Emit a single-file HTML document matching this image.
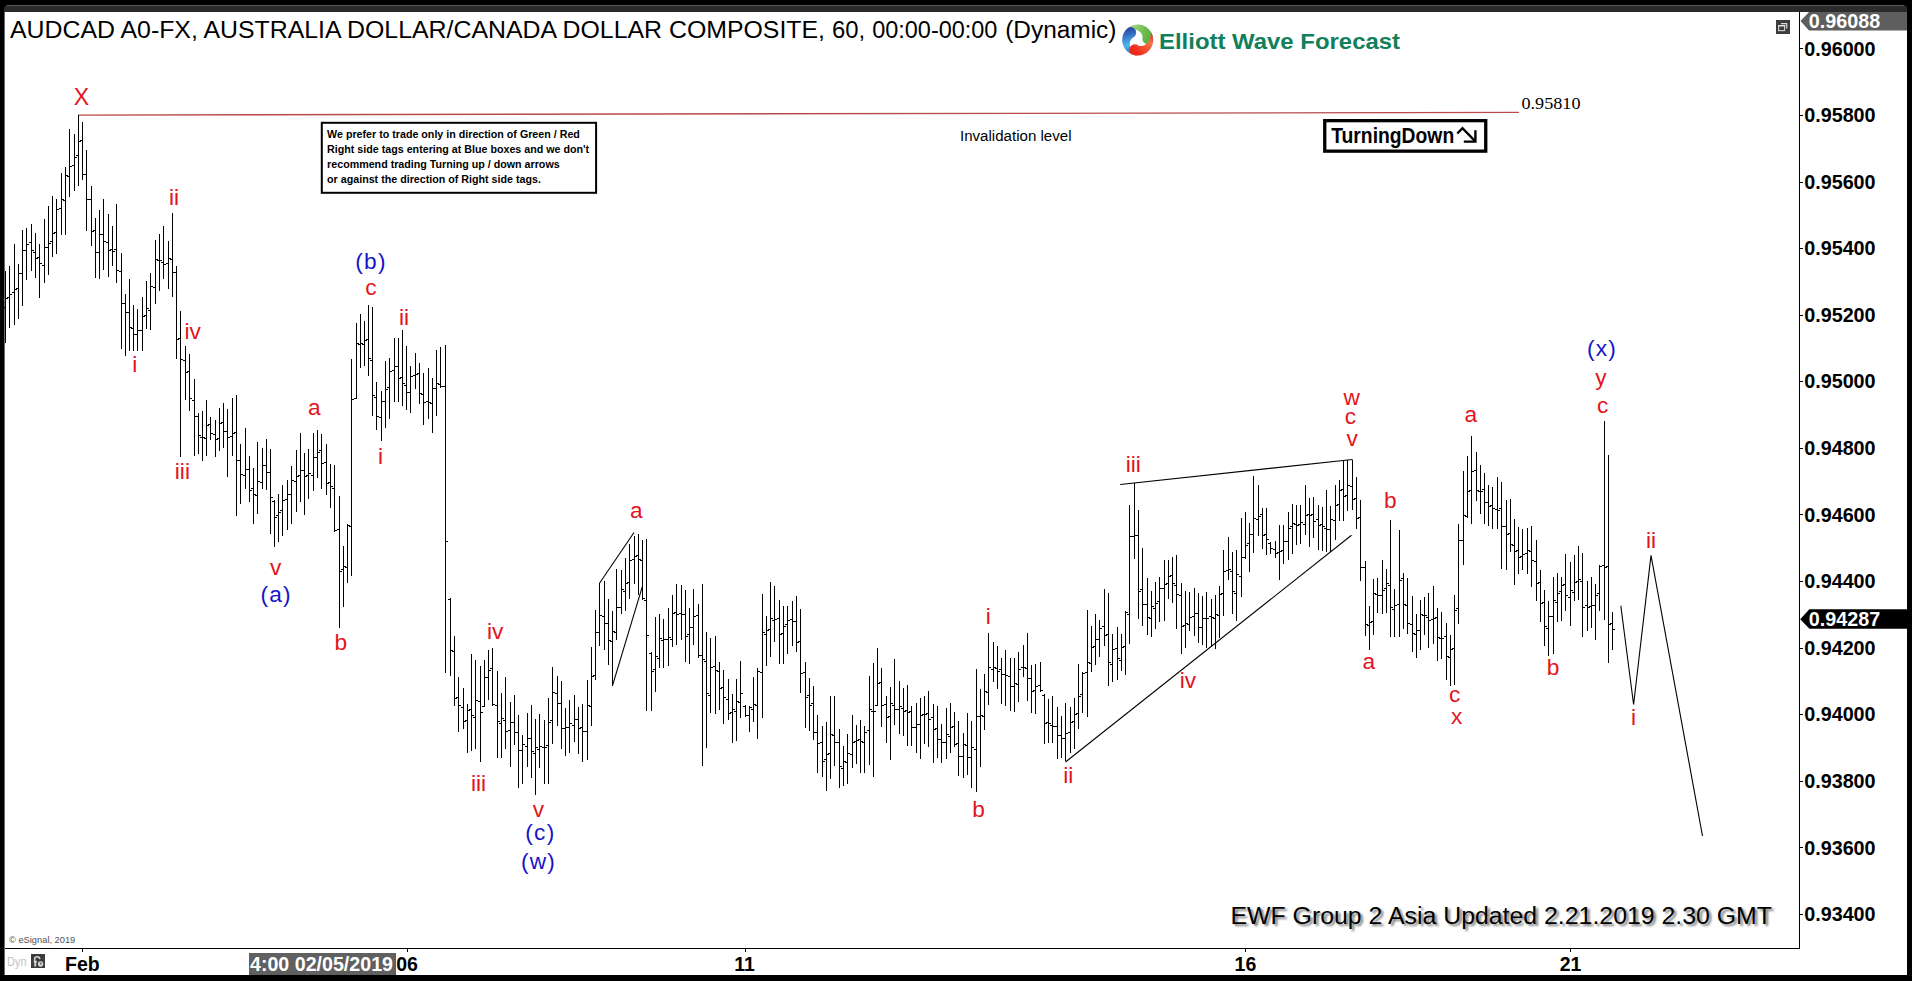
<!DOCTYPE html>
<html><head><meta charset="utf-8"><title>AUDCAD Elliott Wave Chart</title>
<style>
html,body{margin:0;padding:0;background:#000;}
body{width:1912px;height:981px;overflow:hidden;}
svg{display:block;}
.lab{font-family:"Liberation Sans",Arial,sans-serif;font-size:22.7px;text-anchor:middle;}
.ax{font-family:"Liberation Sans",Arial,sans-serif;font-size:19.5px;font-weight:bold;}
.yl{font-family:"Liberation Sans",Arial,sans-serif;font-size:19.3px;font-weight:bold;}
</style></head><body>
<svg width="1912" height="981" viewBox="0 0 1912 981">
<rect x="0" y="0" width="1912" height="981" fill="#000"/>
<path d="M4 12V9a4 4 0 0 1 4-4H1903a4 4 0 0 1 4 4V12Z" fill="#2b2b2b"/>
<path d="M7 5.5H1904" stroke="#5a5a5a" stroke-width="1"/>
<rect x="5" y="12" width="1902" height="963" fill="#fff"/>
<rect x="4" y="12" width="1" height="963" fill="#6a6a6a"/>
<g font-family='"Liberation Sans", Arial, sans-serif' font-size="23" fill="#000"><text x="10" y="37.5" textLength="815" lengthAdjust="spacingAndGlyphs">AUDCAD A0-FX, AUSTRALIA DOLLAR/CANADA DOLLAR COMPOSITE,</text><text x="831.9" y="37.5" textLength="33.2" lengthAdjust="spacingAndGlyphs">60,</text><text x="872.2" y="37.5" textLength="125.2" lengthAdjust="spacingAndGlyphs">00:00-00:00</text><text x="1005.2" y="37.5" textLength="111.2" lengthAdjust="spacingAndGlyphs">(Dynamic)</text></g>
<defs><linearGradient id="lg1" gradientUnits="userSpaceOnUse" x1="1124" y1="30" x2="1147" y2="40"><stop offset="0" stop-color="#b7dc86"/><stop offset="1" stop-color="#5bb443"/></linearGradient><linearGradient id="lg2" gradientUnits="userSpaceOnUse" x1="1128" y1="30" x2="1134" y2="56"><stop offset="0" stop-color="#2c4fae"/><stop offset="0.55" stop-color="#4bb6ef"/><stop offset="1" stop-color="#2468b4"/></linearGradient><linearGradient id="lg3" gradientUnits="userSpaceOnUse" x1="1134" y1="50" x2="1153" y2="30"><stop offset="0" stop-color="#f2281a"/><stop offset="0.6" stop-color="#f4744a"/><stop offset="1" stop-color="#c9261c"/></linearGradient></defs><path d="M1153.20 40.00L1153.01 37.61L1152.46 35.27L1151.56 33.05L1150.32 31.00L1148.78 29.16L1146.97 27.58L1144.95 26.30L1142.75 25.34L1140.42 24.74L1138.04 24.50L1135.64 24.64L1133.30 25.14L1131.06 26.00L1128.98 27.19L1127.10 28.69L1125.49 30.46L1125.72 30.64L1127.94 30.24L1129.73 29.81L1131.42 29.55L1133.01 29.47L1134.51 29.57L1135.91 29.84L1137.19 30.25L1138.34 30.79L1139.36 31.44L1140.24 32.18L1140.97 32.99L1141.55 33.84L1141.99 34.71L1142.28 35.58L1142.43 36.43L1142.46 37.25L1142.30 38.98L1142.68 40.67L1143.56 42.16L1144.86 43.31L1146.46 43.99L1148.18 44.16L1149.87 43.78L1151.37 42.89L1152.51 41.59Z" fill="url(#lg1)"/><path d="M1128.59 27.46L1126.76 29.02L1125.20 30.83L1123.94 32.87L1123.00 35.08L1122.42 37.41L1122.20 39.80L1122.36 42.19L1122.88 44.53L1123.75 46.76L1124.96 48.83L1126.48 50.69L1128.26 52.30L1130.27 53.61L1132.46 54.59L1134.78 55.22L1137.16 55.49L1137.17 55.19L1135.54 53.64L1134.13 52.44L1132.94 51.23L1131.94 49.98L1131.14 48.71L1130.53 47.42L1130.11 46.14L1129.87 44.89L1129.80 43.68L1129.88 42.54L1130.10 41.48L1130.45 40.51L1130.90 39.64L1131.43 38.89L1132.03 38.27L1132.68 37.76L1134.17 36.88L1135.31 35.58L1136.00 33.99L1136.16 32.26L1135.78 30.57L1134.90 29.08L1133.60 27.93L1132.01 27.24L1130.28 27.08Z" fill="url(#lg2)"/><path d="M1131.40 54.16L1133.66 54.96L1136.01 55.41L1138.41 55.48L1140.79 55.19L1143.10 54.53L1145.27 53.52L1147.27 52.19L1149.04 50.57L1150.53 48.70L1151.72 46.61L1152.57 44.37L1153.07 42.02L1153.20 39.63L1152.95 37.24L1152.34 34.92L1151.39 32.72L1151.12 32.86L1150.59 35.05L1150.25 36.87L1149.80 38.51L1149.22 40.00L1148.52 41.33L1147.71 42.50L1146.81 43.50L1145.85 44.33L1144.84 45.00L1143.81 45.50L1142.78 45.84L1141.76 46.03L1140.79 46.07L1139.88 45.98L1139.03 45.78L1138.27 45.47L1136.76 44.62L1135.06 44.28L1133.34 44.48L1131.77 45.20L1130.49 46.38L1129.64 47.89L1129.30 49.59L1129.50 51.31L1130.22 52.88Z" fill="url(#lg3)"/>
<text x="1159" y="48.8" font-family='"Liberation Sans", Arial, sans-serif' font-size="22" font-weight="bold" fill="#12805a" textLength="241" lengthAdjust="spacingAndGlyphs">Elliott Wave Forecast</text>
<rect x="1776" y="20" width="14" height="14" fill="#3d3d3d"/><path d="M1781 23.6h5.7v5" fill="none" stroke="#d8d8d8" stroke-width="1.2"/><rect x="1778.6" y="25.6" width="6" height="5" fill="none" stroke="#c8c8c8" stroke-width="1.2"/><rect x="1778" y="25" width="7.2" height="1.4" fill="#e0e0e0"/>
<g shape-rendering="crispEdges" fill="#000"><rect x="1799" y="12" width="1" height="937"/><rect x="5" y="948" width="1795" height="1"/><rect x="1800" y="48" width="3" height="1"/><rect x="1800" y="115" width="3" height="1"/><rect x="1800" y="182" width="3" height="1"/><rect x="1800" y="248" width="3" height="1"/><rect x="1800" y="315" width="3" height="1"/><rect x="1800" y="381" width="3" height="1"/><rect x="1800" y="448" width="3" height="1"/><rect x="1800" y="514" width="3" height="1"/><rect x="1800" y="581" width="3" height="1"/><rect x="1800" y="648" width="3" height="1"/><rect x="1800" y="714" width="3" height="1"/><rect x="1800" y="781" width="3" height="1"/><rect x="1800" y="847" width="3" height="1"/><rect x="1800" y="914" width="3" height="1"/><rect x="82" y="949" width="1" height="3"/><rect x="407" y="949" width="1" height="3"/><rect x="745" y="949" width="1" height="3"/><rect x="1245" y="949" width="1" height="3"/><rect x="1570" y="949" width="1" height="3"/></g>
<text class="yl" x="1804.2" y="55.5" fill="#000" textLength="71.4" lengthAdjust="spacingAndGlyphs">0.96000</text><text class="yl" x="1804.2" y="122.1" fill="#000" textLength="71.4" lengthAdjust="spacingAndGlyphs">0.95800</text><text class="yl" x="1804.2" y="188.7" fill="#000" textLength="71.4" lengthAdjust="spacingAndGlyphs">0.95600</text><text class="yl" x="1804.2" y="255.2" fill="#000" textLength="71.4" lengthAdjust="spacingAndGlyphs">0.95400</text><text class="yl" x="1804.2" y="321.8" fill="#000" textLength="71.4" lengthAdjust="spacingAndGlyphs">0.95200</text><text class="yl" x="1804.2" y="388.4" fill="#000" textLength="71.4" lengthAdjust="spacingAndGlyphs">0.95000</text><text class="yl" x="1804.2" y="455.0" fill="#000" textLength="71.4" lengthAdjust="spacingAndGlyphs">0.94800</text><text class="yl" x="1804.2" y="521.6" fill="#000" textLength="71.4" lengthAdjust="spacingAndGlyphs">0.94600</text><text class="yl" x="1804.2" y="588.1" fill="#000" textLength="71.4" lengthAdjust="spacingAndGlyphs">0.94400</text><text class="yl" x="1804.2" y="654.7" fill="#000" textLength="71.4" lengthAdjust="spacingAndGlyphs">0.94200</text><text class="yl" x="1804.2" y="721.3" fill="#000" textLength="71.4" lengthAdjust="spacingAndGlyphs">0.94000</text><text class="yl" x="1804.2" y="787.9" fill="#000" textLength="71.4" lengthAdjust="spacingAndGlyphs">0.93800</text><text class="yl" x="1804.2" y="854.5" fill="#000" textLength="71.4" lengthAdjust="spacingAndGlyphs">0.93600</text><text class="yl" x="1804.2" y="921.0" fill="#000" textLength="71.4" lengthAdjust="spacingAndGlyphs">0.93400</text>
<path d="M1800.5 21L1809 12H1907V30.5H1809Z" fill="#5e5e5e"/><text class="yl" x="1808.8" y="27.6" fill="#fff" textLength="71.4" lengthAdjust="spacingAndGlyphs">0.96088</text>
<path d="M1800.2 619.3L1809.4 609.3H1907V628.8H1809.4Z" fill="#000"/><text class="yl" x="1808.8" y="626" fill="#fff" textLength="71.4" lengthAdjust="spacingAndGlyphs">0.94287</text>
<rect x="249" y="953" width="147" height="22" fill="#606060"/><text class="ax" x="250" y="970.9" fill="#fff" textLength="143" lengthAdjust="spacingAndGlyphs">4:00 02/05/2019</text><text class="ax" x="82.4" y="970.9" text-anchor="middle" fill="#000">Feb</text><text class="ax" x="407" y="970.9" text-anchor="middle" fill="#000">06</text><text class="ax" x="744.5" y="970.9" text-anchor="middle" fill="#000">11</text><text class="ax" x="1245.4" y="970.9" text-anchor="middle" fill="#000">16</text><text class="ax" x="1570.6" y="970.9" text-anchor="middle" fill="#000">21</text>
<text x="7" y="965.6" font-family='"Liberation Sans", Arial, sans-serif' font-size="12.5" fill="#c2c2c2" textLength="19.5" lengthAdjust="spacingAndGlyphs">Dyn</text><rect x="31" y="954" width="14" height="14" fill="#3c3c3c"/><path d="M34.6 961.5v-1.8a2.6 2.6 0 0 1 5.2-0.6" fill="none" stroke="#d4d4d4" stroke-width="1.5"/><path d="M33.8 961.6h3.2M35.2 961v5.6" fill="none" stroke="#d4d4d4" stroke-width="1.9"/><circle cx="40.6" cy="964" r="2.7" fill="#d4d4d4"/><path d="M40.6 962.4v1.7h1.3" stroke="#3c3c3c" stroke-width="0.8" fill="none"/>
<text x="9" y="943" font-family='"Liberation Sans", Arial, sans-serif' font-size="9.3" fill="#505050">© eSignal, 2019</text>
<path d="M78 115.1L1519 112.4" stroke="#b84a4a" stroke-width="1.4" fill="none"/>
<text x="1521.5" y="108.8" font-family='"Liberation Serif","Times New Roman",serif' font-size="17" fill="#000" textLength="59" lengthAdjust="spacingAndGlyphs">0.95810</text>
<text x="960" y="140.8" font-family='"Liberation Sans", Arial, sans-serif' font-size="15.5" fill="#000" textLength="111.5" lengthAdjust="spacingAndGlyphs">Invalidation level</text>
<rect x="1324.75" y="120.65" width="161" height="30.5" fill="#fff" stroke="#000" stroke-width="3.3"/>
<text x="1331.2" y="142.7" font-family='"Liberation Sans", Arial, sans-serif' font-size="21.3" font-weight="bold" fill="#000" textLength="123" lengthAdjust="spacingAndGlyphs">TurningDown</text><path d="M1457.3 133.5L1462.5 128.2L1474.6 140.6" fill="none" stroke="#000" stroke-width="2.4"/><path d="M1475.4 130.2V141.6H1463.8" fill="none" stroke="#000" stroke-width="2.4" stroke-linejoin="miter"/>
<rect x="321.8" y="122.8" width="274.3" height="70" fill="#fff" stroke="#000" stroke-width="2"/>
<text x="327.1" y="138.0" font-family='"Liberation Sans", Arial, sans-serif' font-size="10.7" font-weight="bold" fill="#000">We prefer to trade only in direction of Green / Red</text><text x="327.1" y="153.1" font-family='"Liberation Sans", Arial, sans-serif' font-size="10.7" font-weight="bold" fill="#000">Right side tags entering at Blue boxes and we don&#39;t</text><text x="327.1" y="167.9" font-family='"Liberation Sans", Arial, sans-serif' font-size="10.7" font-weight="bold" fill="#000">recommend trading Turning up / down arrows</text><text x="327.1" y="182.7" font-family='"Liberation Sans", Arial, sans-serif' font-size="10.7" font-weight="bold" fill="#000">or against the direction of Right side tags.</text>
<path shape-rendering="crispEdges" fill="#000" d="M5 271h1V343h-1ZM3 307h2v1h-2ZM6 298h2v1h-2ZM9 266h1V328h-1ZM7 297h2v1h-2ZM10 294h2v1h-2ZM14 244h1V325h-1ZM12 292h2v1h-2ZM15 289h2v1h-2ZM18 264h1V319h-1ZM16 288h2v1h-2ZM19 273h2v1h-2ZM22 230h1V306h-1ZM20 273h2v1h-2ZM23 250h2v1h-2ZM26 228h1V280h-1ZM24 250h2v1h-2ZM27 244h2v1h-2ZM31 224h1V271h-1ZM29 242h2v1h-2ZM32 250h2v1h-2ZM35 233h1V278h-1ZM33 252h2v1h-2ZM36 258h2v1h-2ZM39 244h1V298h-1ZM37 257h2v1h-2ZM40 263h2v1h-2ZM44 219h1V283h-1ZM42 265h2v1h-2ZM45 247h2v1h-2ZM48 206h1V275h-1ZM46 247h2v1h-2ZM49 243h2v1h-2ZM52 196h1V257h-1ZM50 241h2v1h-2ZM53 233h2v1h-2ZM56 199h1V254h-1ZM54 232h2v1h-2ZM57 209h2v1h-2ZM61 173h1V235h-1ZM59 208h2v1h-2ZM62 199h2v1h-2ZM65 167h1V235h-1ZM63 200h2v1h-2ZM66 175h2v1h-2ZM69 129h1V197h-1ZM67 176h2v1h-2ZM70 166h2v1h-2ZM74 134h1V191h-1ZM72 165h2v1h-2ZM75 157h2v1h-2ZM78 115h1V186h-1ZM76 155h2v1h-2ZM79 141h2v1h-2ZM82 122h1V180h-1ZM80 140h2v1h-2ZM83 174h2v1h-2ZM86 150h1V231h-1ZM84 174h2v1h-2ZM87 199h2v1h-2ZM91 186h1V246h-1ZM89 199h2v1h-2ZM92 231h2v1h-2ZM95 218h1V278h-1ZM93 230h2v1h-2ZM96 252h2v1h-2ZM99 210h1V279h-1ZM97 252h2v1h-2ZM100 234h2v1h-2ZM103 199h1V270h-1ZM101 234h2v1h-2ZM104 241h2v1h-2ZM108 214h1V277h-1ZM106 242h2v1h-2ZM109 250h2v1h-2ZM112 226h1V266h-1ZM110 249h2v1h-2ZM113 251h2v1h-2ZM116 204h1V283h-1ZM114 249h2v1h-2ZM117 270h2v1h-2ZM121 253h1V349h-1ZM119 271h2v1h-2ZM122 303h2v1h-2ZM125 294h1V356h-1ZM123 303h2v1h-2ZM126 312h2v1h-2ZM129 279h1V351h-1ZM127 312h2v1h-2ZM130 327h2v1h-2ZM133 305h1V351h-1ZM131 328h2v1h-2ZM134 334h2v1h-2ZM137 309h1V351h-1ZM135 334h2v1h-2ZM138 330h2v1h-2ZM142 297h1V351h-1ZM140 330h2v1h-2ZM143 316h2v1h-2ZM146 281h1V329h-1ZM144 315h2v1h-2ZM147 308h2v1h-2ZM150 273h1V330h-1ZM148 310h2v1h-2ZM151 286h2v1h-2ZM155 240h1V304h-1ZM153 287h2v1h-2ZM156 259h2v1h-2ZM159 234h1V291h-1ZM157 260h2v1h-2ZM160 260h2v1h-2ZM163 226h1V279h-1ZM161 262h2v1h-2ZM164 264h2v1h-2ZM168 241h1V289h-1ZM166 263h2v1h-2ZM169 258h2v1h-2ZM172 213h1V297h-1ZM170 259h2v1h-2ZM173 272h2v1h-2ZM176 266h1V359h-1ZM174 272h2v1h-2ZM177 339h2v1h-2ZM180 311h1V457h-1ZM178 338h2v1h-2ZM181 359h2v1h-2ZM185 346h1V400h-1ZM183 360h2v1h-2ZM186 372h2v1h-2ZM189 354h1V411h-1ZM187 371h2v1h-2ZM190 398h2v1h-2ZM194 379h1V456h-1ZM192 400h2v1h-2ZM195 416h2v1h-2ZM198 413h1V454h-1ZM196 416h2v1h-2ZM199 435h2v1h-2ZM202 411h1V461h-1ZM200 437h2v1h-2ZM203 437h2v1h-2ZM206 400h1V456h-1ZM204 438h2v1h-2ZM207 425h2v1h-2ZM210 417h1V440h-1ZM208 424h2v1h-2ZM211 433h2v1h-2ZM215 420h1V457h-1ZM213 434h2v1h-2ZM216 439h2v1h-2ZM219 408h1V451h-1ZM217 438h2v1h-2ZM220 423h2v1h-2ZM223 403h1V448h-1ZM221 422h2v1h-2ZM224 431h2v1h-2ZM227 409h1V477h-1ZM225 431h2v1h-2ZM228 437h2v1h-2ZM232 398h1V456h-1ZM230 436h2v1h-2ZM233 433h2v1h-2ZM236 395h1V516h-1ZM234 432h2v1h-2ZM237 460h2v1h-2ZM240 444h1V504h-1ZM238 460h2v1h-2ZM241 474h2v1h-2ZM245 428h1V489h-1ZM243 475h2v1h-2ZM246 469h2v1h-2ZM249 456h1V502h-1ZM247 469h2v1h-2ZM250 490h2v1h-2ZM253 468h1V524h-1ZM251 488h2v1h-2ZM254 494h2v1h-2ZM257 442h1V514h-1ZM255 495h2v1h-2ZM258 481h2v1h-2ZM262 448h1V489h-1ZM260 482h2v1h-2ZM263 465h2v1h-2ZM266 439h1V490h-1ZM264 465h2v1h-2ZM267 472h2v1h-2ZM270 449h1V534h-1ZM268 472h2v1h-2ZM271 497h2v1h-2ZM274 500h1V547h-1ZM272 501h2v1h-2ZM275 517h2v1h-2ZM278 494h1V542h-1ZM276 515h2v1h-2ZM279 512h2v1h-2ZM282 485h1V536h-1ZM280 510h2v1h-2ZM283 500h2v1h-2ZM287 480h1V530h-1ZM285 499h2v1h-2ZM288 494h2v1h-2ZM291 466h1V524h-1ZM289 494h2v1h-2ZM292 480h2v1h-2ZM296 450h1V512h-1ZM294 481h2v1h-2ZM297 476h2v1h-2ZM300 433h1V502h-1ZM298 475h2v1h-2ZM301 470h2v1h-2ZM304 453h1V515h-1ZM302 470h2v1h-2ZM305 476h2v1h-2ZM308 449h1V499h-1ZM306 475h2v1h-2ZM309 473h2v1h-2ZM313 433h1V491h-1ZM311 475h2v1h-2ZM314 457h2v1h-2ZM317 430h1V478h-1ZM315 457h2v1h-2ZM318 452h2v1h-2ZM321 434h1V489h-1ZM319 450h2v1h-2ZM322 463h2v1h-2ZM326 444h1V495h-1ZM324 462h2v1h-2ZM327 483h2v1h-2ZM330 464h1V508h-1ZM328 482h2v1h-2ZM331 486h2v1h-2ZM334 465h1V532h-1ZM332 488h2v1h-2ZM335 530h2v1h-2ZM339 496h1V628h-1ZM337 529h2v1h-2ZM340 571h2v1h-2ZM343 546h1V607h-1ZM341 569h2v1h-2ZM344 566h2v1h-2ZM347 524h1V583h-1ZM345 567h2v1h-2ZM348 525h2v1h-2ZM351 359h1V576h-1ZM349 526h2v1h-2ZM352 399h2v1h-2ZM356 323h1V399h-1ZM354 398h2v1h-2ZM357 343h2v1h-2ZM360 314h1V368h-1ZM358 344h2v1h-2ZM361 343h2v1h-2ZM364 321h1V366h-1ZM362 344h2v1h-2ZM365 340h2v1h-2ZM368 305h1V376h-1ZM366 339h2v1h-2ZM369 358h2v1h-2ZM372 307h1V416h-1ZM370 360h2v1h-2ZM373 395h2v1h-2ZM376 382h1V430h-1ZM374 397h2v1h-2ZM377 416h2v1h-2ZM381 391h1V441h-1ZM379 417h2v1h-2ZM382 401h2v1h-2ZM385 361h1V428h-1ZM383 401h2v1h-2ZM386 389h2v1h-2ZM389 358h1V419h-1ZM387 387h2v1h-2ZM390 371h2v1h-2ZM394 338h1V402h-1ZM392 370h2v1h-2ZM395 366h2v1h-2ZM398 338h1V402h-1ZM396 366h2v1h-2ZM399 378h2v1h-2ZM402 330h1V406h-1ZM400 377h2v1h-2ZM403 383h2v1h-2ZM406 346h1V410h-1ZM404 385h2v1h-2ZM407 392h2v1h-2ZM410 366h1V413h-1ZM408 392h2v1h-2ZM411 376h2v1h-2ZM415 353h1V389h-1ZM413 375h2v1h-2ZM416 374h2v1h-2ZM419 363h1V404h-1ZM417 373h2v1h-2ZM420 393h2v1h-2ZM423 373h1V425h-1ZM421 394h2v1h-2ZM424 402h2v1h-2ZM428 368h1V419h-1ZM426 401h2v1h-2ZM429 402h2v1h-2ZM432 378h1V433h-1ZM430 403h2v1h-2ZM433 388h2v1h-2ZM436 350h1V416h-1ZM434 388h2v1h-2ZM437 383h2v1h-2ZM440 347h1V388h-1ZM438 384h2v1h-2ZM441 386h2v1h-2ZM445 345h1V673h-1ZM443 386h2v1h-2ZM446 541h2v1h-2ZM450 598h1V676h-1ZM448 599h2v1h-2ZM451 650h2v1h-2ZM454 636h1V706h-1ZM452 651h2v1h-2ZM455 698h2v1h-2ZM458 677h1V732h-1ZM456 697h2v1h-2ZM459 705h2v1h-2ZM463 688h1V729h-1ZM461 707h2v1h-2ZM464 721h2v1h-2ZM467 704h1V753h-1ZM465 720h2v1h-2ZM468 710h2v1h-2ZM471 654h1V751h-1ZM469 709h2v1h-2ZM472 715h2v1h-2ZM475 660h1V749h-1ZM473 717h2v1h-2ZM476 700h2v1h-2ZM480 666h1V762h-1ZM478 701h2v1h-2ZM481 712h2v1h-2ZM484 660h1V707h-1ZM482 706h2v1h-2ZM485 677h2v1h-2ZM488 650h1V700h-1ZM486 677h2v1h-2ZM489 670h2v1h-2ZM492 648h1V706h-1ZM490 668h2v1h-2ZM493 704h2v1h-2ZM497 671h1V758h-1ZM495 705h2v1h-2ZM498 721h2v1h-2ZM501 693h1V758h-1ZM499 723h2v1h-2ZM502 718h2v1h-2ZM505 677h1V749h-1ZM503 720h2v1h-2ZM506 731h2v1h-2ZM510 702h1V767h-1ZM508 730h2v1h-2ZM511 722h2v1h-2ZM514 695h1V745h-1ZM512 722h2v1h-2ZM515 732h2v1h-2ZM518 715h1V788h-1ZM516 732h2v1h-2ZM519 750h2v1h-2ZM522 735h1V784h-1ZM520 750h2v1h-2ZM523 744h2v1h-2ZM527 713h1V767h-1ZM525 746h2v1h-2ZM528 738h2v1h-2ZM531 705h1V778h-1ZM529 738h2v1h-2ZM532 751h2v1h-2ZM535 719h1V795h-1ZM533 753h2v1h-2ZM536 747h2v1h-2ZM539 714h1V768h-1ZM537 749h2v1h-2ZM540 746h2v1h-2ZM544 720h1V784h-1ZM542 747h2v1h-2ZM545 747h2v1h-2ZM548 698h1V784h-1ZM546 745h2v1h-2ZM549 722h2v1h-2ZM552 667h1V744h-1ZM550 720h2v1h-2ZM553 692h2v1h-2ZM557 676h1V726h-1ZM555 693h2v1h-2ZM558 703h2v1h-2ZM561 681h1V749h-1ZM559 703h2v1h-2ZM562 728h2v1h-2ZM565 708h1V756h-1ZM563 728h2v1h-2ZM566 727h2v1h-2ZM569 700h1V753h-1ZM567 727h2v1h-2ZM570 723h2v1h-2ZM574 695h1V742h-1ZM572 725h2v1h-2ZM575 719h2v1h-2ZM578 707h1V754h-1ZM576 719h2v1h-2ZM579 728h2v1h-2ZM582 704h1V762h-1ZM580 727h2v1h-2ZM583 731h2v1h-2ZM587 680h1V760h-1ZM585 731h2v1h-2ZM588 705h2v1h-2ZM591 647h1V726h-1ZM589 706h2v1h-2ZM592 676h2v1h-2ZM595 610h1V680h-1ZM593 675h2v1h-2ZM596 632h2v1h-2ZM599 583h1V646h-1ZM597 632h2v1h-2ZM600 615h2v1h-2ZM604 581h1V650h-1ZM602 616h2v1h-2ZM605 623h2v1h-2ZM608 599h1V665h-1ZM606 623h2v1h-2ZM609 640h2v1h-2ZM612 611h1V686h-1ZM610 641h2v1h-2ZM613 631h2v1h-2ZM616 569h1V640h-1ZM614 632h2v1h-2ZM617 607h2v1h-2ZM621 570h1V614h-1ZM619 607h2v1h-2ZM622 589h2v1h-2ZM625 558h1V611h-1ZM623 591h2v1h-2ZM626 583h2v1h-2ZM629 544h1V599h-1ZM627 582h2v1h-2ZM630 560h2v1h-2ZM634 536h1V584h-1ZM632 559h2v1h-2ZM635 556h2v1h-2ZM638 534h1V595h-1ZM636 555h2v1h-2ZM639 559h2v1h-2ZM642 540h1V600h-1ZM640 560h2v1h-2ZM643 598h2v1h-2ZM646 539h1V711h-1ZM644 600h2v1h-2ZM647 635h2v1h-2ZM651 652h1V711h-1ZM649 653h2v1h-2ZM652 671h2v1h-2ZM655 617h1V692h-1ZM653 669h2v1h-2ZM656 656h2v1h-2ZM659 614h1V668h-1ZM657 658h2v1h-2ZM660 638h2v1h-2ZM663 619h1V668h-1ZM661 640h2v1h-2ZM664 639h2v1h-2ZM668 608h1V666h-1ZM666 639h2v1h-2ZM669 637h2v1h-2ZM672 595h1V647h-1ZM670 639h2v1h-2ZM673 613h2v1h-2ZM676 584h1V645h-1ZM674 612h2v1h-2ZM677 614h2v1h-2ZM681 585h1V640h-1ZM679 613h2v1h-2ZM682 614h2v1h-2ZM685 590h1V662h-1ZM683 614h2v1h-2ZM686 636h2v1h-2ZM689 608h1V664h-1ZM687 634h2v1h-2ZM690 627h2v1h-2ZM693 589h1V645h-1ZM691 627h2v1h-2ZM694 616h2v1h-2ZM698 604h1V658h-1ZM696 615h2v1h-2ZM699 655h2v1h-2ZM702 584h1V766h-1ZM700 655h2v1h-2ZM703 659h2v1h-2ZM706 632h1V748h-1ZM704 661h2v1h-2ZM707 693h2v1h-2ZM710 638h1V713h-1ZM708 695h2v1h-2ZM711 667h2v1h-2ZM715 636h1V714h-1ZM713 666h2v1h-2ZM716 670h2v1h-2ZM719 662h1V710h-1ZM717 671h2v1h-2ZM720 688h2v1h-2ZM723 670h1V724h-1ZM721 687h2v1h-2ZM724 697h2v1h-2ZM728 679h1V720h-1ZM726 699h2v1h-2ZM729 713h2v1h-2ZM732 694h1V743h-1ZM730 712h2v1h-2ZM733 709h2v1h-2ZM736 679h1V741h-1ZM734 711h2v1h-2ZM737 701h2v1h-2ZM740 661h1V718h-1ZM738 702h2v1h-2ZM741 693h2v1h-2ZM745 705h1V717h-1ZM743 706h2v1h-2ZM746 715h2v1h-2ZM749 706h1V732h-1ZM747 715h2v1h-2ZM750 707h2v1h-2ZM753 677h1V722h-1ZM751 709h2v1h-2ZM754 704h2v1h-2ZM757 668h1V739h-1ZM755 705h2v1h-2ZM758 671h2v1h-2ZM762 594h1V718h-1ZM760 672h2v1h-2ZM763 632h2v1h-2ZM766 616h1V666h-1ZM764 634h2v1h-2ZM767 630h2v1h-2ZM770 582h1V657h-1ZM768 629h2v1h-2ZM771 618h2v1h-2ZM774 586h1V642h-1ZM772 620h2v1h-2ZM775 619h2v1h-2ZM779 600h1V664h-1ZM777 618h2v1h-2ZM780 634h2v1h-2ZM783 606h1V664h-1ZM781 633h2v1h-2ZM784 626h2v1h-2ZM787 606h1V654h-1ZM785 624h2v1h-2ZM788 620h2v1h-2ZM792 601h1V646h-1ZM790 619h2v1h-2ZM793 621h2v1h-2ZM796 596h1V652h-1ZM794 621h2v1h-2ZM797 642h2v1h-2ZM800 609h1V693h-1ZM798 641h2v1h-2ZM801 673h2v1h-2ZM805 662h1V728h-1ZM803 672h2v1h-2ZM806 697h2v1h-2ZM809 678h1V731h-1ZM807 695h2v1h-2ZM810 705h2v1h-2ZM813 686h1V740h-1ZM811 703h2v1h-2ZM814 732h2v1h-2ZM817 715h1V773h-1ZM815 732h2v1h-2ZM818 743h2v1h-2ZM822 726h1V777h-1ZM820 742h2v1h-2ZM823 761h2v1h-2ZM826 722h1V791h-1ZM824 759h2v1h-2ZM827 754h2v1h-2ZM830 696h1V779h-1ZM828 753h2v1h-2ZM831 734h2v1h-2ZM834 696h1V766h-1ZM832 735h2v1h-2ZM835 742h2v1h-2ZM839 729h1V788h-1ZM837 742h2v1h-2ZM840 766h2v1h-2ZM843 746h1V786h-1ZM841 768h2v1h-2ZM844 761h2v1h-2ZM847 734h1V784h-1ZM845 762h2v1h-2ZM848 753h2v1h-2ZM852 715h1V768h-1ZM850 754h2v1h-2ZM853 742h2v1h-2ZM856 725h1V764h-1ZM854 741h2v1h-2ZM857 740h2v1h-2ZM860 720h1V773h-1ZM858 739h2v1h-2ZM861 741h2v1h-2ZM864 726h1V773h-1ZM862 742h2v1h-2ZM865 732h2v1h-2ZM869 676h1V765h-1ZM867 730h2v1h-2ZM870 709h2v1h-2ZM873 663h1V777h-1ZM871 711h2v1h-2ZM874 711h2v1h-2ZM877 648h1V706h-1ZM875 705h2v1h-2ZM878 683h2v1h-2ZM881 668h1V727h-1ZM879 682h2v1h-2ZM882 705h2v1h-2ZM886 696h1V743h-1ZM884 704h2v1h-2ZM887 717h2v1h-2ZM890 687h1V760h-1ZM888 716h2v1h-2ZM891 703h2v1h-2ZM894 659h1V725h-1ZM892 705h2v1h-2ZM895 709h2v1h-2ZM899 681h1V734h-1ZM897 709h2v1h-2ZM900 706h2v1h-2ZM903 688h1V736h-1ZM901 708h2v1h-2ZM904 711h2v1h-2ZM907 685h1V746h-1ZM905 710h2v1h-2ZM908 712h2v1h-2ZM911 706h1V746h-1ZM909 711h2v1h-2ZM912 727h2v1h-2ZM916 703h1V753h-1ZM914 727h2v1h-2ZM917 724h2v1h-2ZM920 698h1V759h-1ZM918 724h2v1h-2ZM921 715h2v1h-2ZM924 696h1V744h-1ZM922 714h2v1h-2ZM925 714h2v1h-2ZM928 691h1V747h-1ZM926 713h2v1h-2ZM929 719h2v1h-2ZM933 704h1V763h-1ZM931 717h2v1h-2ZM934 729h2v1h-2ZM937 706h1V758h-1ZM935 728h2v1h-2ZM938 739h2v1h-2ZM941 724h1V763h-1ZM939 739h2v1h-2ZM942 742h2v1h-2ZM946 708h1V759h-1ZM944 742h2v1h-2ZM947 734h2v1h-2ZM950 703h1V753h-1ZM948 736h2v1h-2ZM951 727h2v1h-2ZM954 712h1V747h-1ZM952 726h2v1h-2ZM955 744h2v1h-2ZM958 721h1V776h-1ZM956 743h2v1h-2ZM959 756h2v1h-2ZM963 733h1V778h-1ZM961 756h2v1h-2ZM964 744h2v1h-2ZM967 713h1V775h-1ZM965 745h2v1h-2ZM968 757h2v1h-2ZM971 721h1V788h-1ZM969 757h2v1h-2ZM972 747h2v1h-2ZM976 669h1V792h-1ZM974 749h2v1h-2ZM977 716h2v1h-2ZM980 689h1V767h-1ZM978 716h2v1h-2ZM981 715h2v1h-2ZM984 674h1V730h-1ZM982 716h2v1h-2ZM985 691h2v1h-2ZM988 633h1V705h-1ZM986 692h2v1h-2ZM989 667h2v1h-2ZM993 642h1V682h-1ZM991 669h2v1h-2ZM994 667h2v1h-2ZM997 646h1V689h-1ZM995 668h2v1h-2ZM998 671h2v1h-2ZM1001 658h1V704h-1ZM999 669h2v1h-2ZM1002 674h2v1h-2ZM1005 650h1V706h-1ZM1003 674h2v1h-2ZM1006 675h2v1h-2ZM1010 658h1V711h-1ZM1008 676h2v1h-2ZM1011 686h2v1h-2ZM1014 658h1V712h-1ZM1012 686h2v1h-2ZM1015 683h2v1h-2ZM1018 652h1V702h-1ZM1016 684h2v1h-2ZM1019 669h2v1h-2ZM1023 645h1V677h-1ZM1021 667h2v1h-2ZM1024 667h2v1h-2ZM1027 633h1V701h-1ZM1025 668h2v1h-2ZM1028 678h2v1h-2ZM1031 665h1V713h-1ZM1029 678h2v1h-2ZM1032 691h2v1h-2ZM1035 664h1V714h-1ZM1033 690h2v1h-2ZM1036 686h2v1h-2ZM1040 662h1V692h-1ZM1038 685h2v1h-2ZM1041 690h2v1h-2ZM1044 694h1V744h-1ZM1042 695h2v1h-2ZM1045 723h2v1h-2ZM1048 699h1V743h-1ZM1046 722h2v1h-2ZM1049 723h2v1h-2ZM1052 696h1V743h-1ZM1050 725h2v1h-2ZM1053 726h2v1h-2ZM1057 707h1V759h-1ZM1055 726h2v1h-2ZM1058 735h2v1h-2ZM1061 716h1V758h-1ZM1059 735h2v1h-2ZM1062 738h2v1h-2ZM1065 703h1V761h-1ZM1063 738h2v1h-2ZM1066 733h2v1h-2ZM1070 707h1V753h-1ZM1068 732h2v1h-2ZM1071 722h2v1h-2ZM1074 698h1V749h-1ZM1072 721h2v1h-2ZM1075 714h2v1h-2ZM1078 664h1V729h-1ZM1076 713h2v1h-2ZM1079 696h2v1h-2ZM1082 672h1V713h-1ZM1080 694h2v1h-2ZM1083 673h2v1h-2ZM1087 610h1V717h-1ZM1085 672h2v1h-2ZM1088 662h2v1h-2ZM1091 626h1V672h-1ZM1089 663h2v1h-2ZM1092 647h2v1h-2ZM1095 614h1V665h-1ZM1093 646h2v1h-2ZM1096 639h2v1h-2ZM1099 620h1V657h-1ZM1097 639h2v1h-2ZM1100 628h2v1h-2ZM1104 589h1V646h-1ZM1102 626h2v1h-2ZM1105 635h2v1h-2ZM1108 593h1V686h-1ZM1106 634h2v1h-2ZM1109 662h2v1h-2ZM1112 634h1V682h-1ZM1110 664h2v1h-2ZM1113 649h2v1h-2ZM1117 627h1V680h-1ZM1115 648h2v1h-2ZM1118 658h2v1h-2ZM1121 634h1V671h-1ZM1119 660h2v1h-2ZM1122 647h2v1h-2ZM1125 611h1V675h-1ZM1123 646h2v1h-2ZM1126 612h2v1h-2ZM1129 505h1V644h-1ZM1127 614h2v1h-2ZM1130 536h2v1h-2ZM1134 483h1V559h-1ZM1132 536h2v1h-2ZM1135 535h2v1h-2ZM1138 510h1V619h-1ZM1136 535h2v1h-2ZM1139 591h2v1h-2ZM1142 548h1V626h-1ZM1140 589h2v1h-2ZM1143 604h2v1h-2ZM1147 578h1V635h-1ZM1145 604h2v1h-2ZM1148 617h2v1h-2ZM1151 591h1V637h-1ZM1149 618h2v1h-2ZM1152 606h2v1h-2ZM1155 582h1V629h-1ZM1153 608h2v1h-2ZM1156 603h2v1h-2ZM1159 577h1V622h-1ZM1157 601h2v1h-2ZM1160 588h2v1h-2ZM1164 560h1V621h-1ZM1162 588h2v1h-2ZM1165 584h2v1h-2ZM1168 560h1V599h-1ZM1166 583h2v1h-2ZM1169 576h2v1h-2ZM1172 557h1V603h-1ZM1170 575h2v1h-2ZM1173 583h2v1h-2ZM1176 555h1V629h-1ZM1174 585h2v1h-2ZM1177 594h2v1h-2ZM1181 583h1V654h-1ZM1179 595h2v1h-2ZM1182 626h2v1h-2ZM1185 591h1V648h-1ZM1183 625h2v1h-2ZM1186 623h2v1h-2ZM1189 592h1V631h-1ZM1187 624h2v1h-2ZM1190 617h2v1h-2ZM1194 588h1V636h-1ZM1192 616h2v1h-2ZM1195 613h2v1h-2ZM1198 593h1V643h-1ZM1196 613h2v1h-2ZM1199 627h2v1h-2ZM1202 596h1V645h-1ZM1200 627h2v1h-2ZM1203 618h2v1h-2ZM1206 592h1V648h-1ZM1204 618h2v1h-2ZM1207 618h2v1h-2ZM1211 599h1V647h-1ZM1209 616h2v1h-2ZM1212 617h2v1h-2ZM1215 595h1V649h-1ZM1213 618h2v1h-2ZM1216 614h2v1h-2ZM1219 586h1V638h-1ZM1217 615h2v1h-2ZM1220 594h2v1h-2ZM1223 550h1V616h-1ZM1221 593h2v1h-2ZM1224 571h2v1h-2ZM1228 537h1V580h-1ZM1226 570h2v1h-2ZM1229 569h2v1h-2ZM1232 552h1V614h-1ZM1230 571h2v1h-2ZM1233 591h2v1h-2ZM1236 550h1V621h-1ZM1234 593h2v1h-2ZM1237 574h2v1h-2ZM1241 518h1V597h-1ZM1239 576h2v1h-2ZM1242 557h2v1h-2ZM1245 512h1V559h-1ZM1243 557h2v1h-2ZM1246 545h2v1h-2ZM1249 523h1V572h-1ZM1247 543h2v1h-2ZM1250 534h2v1h-2ZM1253 476h1V553h-1ZM1251 534h2v1h-2ZM1254 518h2v1h-2ZM1258 485h1V536h-1ZM1256 519h2v1h-2ZM1259 516h2v1h-2ZM1262 508h1V549h-1ZM1260 514h2v1h-2ZM1263 535h2v1h-2ZM1266 508h1V555h-1ZM1264 534h2v1h-2ZM1267 539h2v1h-2ZM1270 542h1V554h-1ZM1268 543h2v1h-2ZM1271 548h2v1h-2ZM1275 541h1V558h-1ZM1273 549h2v1h-2ZM1276 553h2v1h-2ZM1279 525h1V580h-1ZM1277 552h2v1h-2ZM1280 551h2v1h-2ZM1283 525h1V564h-1ZM1281 550h2v1h-2ZM1284 541h2v1h-2ZM1288 512h1V560h-1ZM1286 541h2v1h-2ZM1289 528h2v1h-2ZM1292 504h1V554h-1ZM1290 526h2v1h-2ZM1293 523h2v1h-2ZM1296 505h1V545h-1ZM1294 524h2v1h-2ZM1297 525h2v1h-2ZM1300 505h1V544h-1ZM1298 524h2v1h-2ZM1301 522h2v1h-2ZM1305 485h1V535h-1ZM1303 524h2v1h-2ZM1306 515h2v1h-2ZM1309 498h1V547h-1ZM1307 514h2v1h-2ZM1310 515h2v1h-2ZM1313 497h1V538h-1ZM1311 514h2v1h-2ZM1314 521h2v1h-2ZM1318 505h1V550h-1ZM1316 519h2v1h-2ZM1319 525h2v1h-2ZM1322 507h1V551h-1ZM1320 524h2v1h-2ZM1323 526h2v1h-2ZM1326 490h1V552h-1ZM1324 528h2v1h-2ZM1327 529h2v1h-2ZM1330 506h1V552h-1ZM1328 529h2v1h-2ZM1331 519h2v1h-2ZM1335 485h1V540h-1ZM1333 520h2v1h-2ZM1336 505h2v1h-2ZM1339 480h1V521h-1ZM1337 504h2v1h-2ZM1340 490h2v1h-2ZM1343 460h1V521h-1ZM1341 489h2v1h-2ZM1344 496h2v1h-2ZM1347 460h1V511h-1ZM1345 495h2v1h-2ZM1348 485h2v1h-2ZM1352 460h1V510h-1ZM1350 486h2v1h-2ZM1353 499h2v1h-2ZM1356 477h1V529h-1ZM1354 498h2v1h-2ZM1357 518h2v1h-2ZM1360 500h1V581h-1ZM1358 517h2v1h-2ZM1361 567h2v1h-2ZM1365 561h1V636h-1ZM1363 567h2v1h-2ZM1366 624h2v1h-2ZM1369 606h1V650h-1ZM1367 625h2v1h-2ZM1370 622h2v1h-2ZM1373 579h1V635h-1ZM1371 621h2v1h-2ZM1374 593h2v1h-2ZM1377 578h1V613h-1ZM1375 594h2v1h-2ZM1378 595h2v1h-2ZM1382 560h1V614h-1ZM1380 595h2v1h-2ZM1383 590h2v1h-2ZM1386 569h1V613h-1ZM1384 588h2v1h-2ZM1387 583h2v1h-2ZM1390 520h1V637h-1ZM1388 585h2v1h-2ZM1391 607h2v1h-2ZM1394 589h1V637h-1ZM1392 609h2v1h-2ZM1395 605h2v1h-2ZM1399 530h1V637h-1ZM1397 604h2v1h-2ZM1400 580h2v1h-2ZM1403 573h1V629h-1ZM1401 578h2v1h-2ZM1404 604h2v1h-2ZM1407 578h1V634h-1ZM1405 605h2v1h-2ZM1408 623h2v1h-2ZM1412 596h1V652h-1ZM1410 624h2v1h-2ZM1413 633h2v1h-2ZM1416 614h1V658h-1ZM1414 634h2v1h-2ZM1417 630h2v1h-2ZM1420 600h1V650h-1ZM1418 630h2v1h-2ZM1421 614h2v1h-2ZM1424 597h1V635h-1ZM1422 615h2v1h-2ZM1425 615h2v1h-2ZM1428 593h1V648h-1ZM1426 617h2v1h-2ZM1429 620h2v1h-2ZM1433 586h1V644h-1ZM1431 619h2v1h-2ZM1434 618h2v1h-2ZM1437 608h1V661h-1ZM1435 617h2v1h-2ZM1438 637h2v1h-2ZM1441 612h1V659h-1ZM1439 638h2v1h-2ZM1442 638h2v1h-2ZM1446 623h1V680h-1ZM1444 636h2v1h-2ZM1447 656h2v1h-2ZM1450 635h1V686h-1ZM1448 657h2v1h-2ZM1451 649h2v1h-2ZM1454 595h1V685h-1ZM1452 648h2v1h-2ZM1455 610h2v1h-2ZM1458 524h1V624h-1ZM1456 608h2v1h-2ZM1459 540h2v1h-2ZM1463 471h1V565h-1ZM1461 540h2v1h-2ZM1464 515h2v1h-2ZM1467 456h1V518h-1ZM1465 516h2v1h-2ZM1468 491h2v1h-2ZM1471 436h1V524h-1ZM1469 490h2v1h-2ZM1472 471h2v1h-2ZM1476 452h1V501h-1ZM1474 470h2v1h-2ZM1477 490h2v1h-2ZM1480 465h1V514h-1ZM1478 491h2v1h-2ZM1481 491h2v1h-2ZM1484 473h1V524h-1ZM1482 489h2v1h-2ZM1485 502h2v1h-2ZM1488 485h1V526h-1ZM1486 502h2v1h-2ZM1489 506h2v1h-2ZM1492 487h1V529h-1ZM1490 505h2v1h-2ZM1493 508h2v1h-2ZM1497 477h1V529h-1ZM1495 509h2v1h-2ZM1498 510h2v1h-2ZM1501 482h1V569h-1ZM1499 508h2v1h-2ZM1502 526h2v1h-2ZM1506 500h1V570h-1ZM1504 526h2v1h-2ZM1507 534h2v1h-2ZM1510 499h1V552h-1ZM1508 533h2v1h-2ZM1511 544h2v1h-2ZM1514 519h1V585h-1ZM1512 545h2v1h-2ZM1515 551h2v1h-2ZM1518 527h1V574h-1ZM1516 550h2v1h-2ZM1519 557h2v1h-2ZM1522 529h1V570h-1ZM1520 556h2v1h-2ZM1523 554h2v1h-2ZM1527 528h1V574h-1ZM1525 553h2v1h-2ZM1528 550h2v1h-2ZM1531 526h1V587h-1ZM1529 551h2v1h-2ZM1532 560h2v1h-2ZM1536 540h1V601h-1ZM1534 561h2v1h-2ZM1537 583h2v1h-2ZM1540 570h1V622h-1ZM1538 582h2v1h-2ZM1541 603h2v1h-2ZM1544 590h1V646h-1ZM1542 602h2v1h-2ZM1545 626h2v1h-2ZM1548 601h1V656h-1ZM1546 628h2v1h-2ZM1549 616h2v1h-2ZM1553 577h1V654h-1ZM1551 616h2v1h-2ZM1554 600h2v1h-2ZM1557 573h1V622h-1ZM1555 602h2v1h-2ZM1558 593h2v1h-2ZM1561 577h1V621h-1ZM1559 591h2v1h-2ZM1562 585h2v1h-2ZM1565 554h1V611h-1ZM1563 584h2v1h-2ZM1566 595h2v1h-2ZM1570 562h1V626h-1ZM1568 597h2v1h-2ZM1571 590h2v1h-2ZM1574 555h1V601h-1ZM1572 592h2v1h-2ZM1575 582h2v1h-2ZM1578 546h1V600h-1ZM1576 581h2v1h-2ZM1579 579h2v1h-2ZM1582 553h1V637h-1ZM1580 581h2v1h-2ZM1583 607h2v1h-2ZM1587 581h1V631h-1ZM1585 605h2v1h-2ZM1588 607h2v1h-2ZM1591 577h1V628h-1ZM1589 606h2v1h-2ZM1592 605h2v1h-2ZM1595 584h1V640h-1ZM1593 605h2v1h-2ZM1596 595h2v1h-2ZM1599 565h1V611h-1ZM1597 593h2v1h-2ZM1600 566h2v1h-2ZM1604 421h1V620h-1ZM1602 565h2v1h-2ZM1605 567h2v1h-2ZM1608 455h1V663h-1ZM1606 566h2v1h-2ZM1609 624h2v1h-2ZM1612 612h1V650h-1ZM1610 623h2v1h-2ZM1613 629h2v1h-2Z"/>
<g fill="none" stroke="#000" stroke-width="1.1"><path d="M599.5 583.2L634 532.5"/><path d="M612.4 685.8L642.4 586.3"/><path d="M1120.2 484.5L1352.5 459.5"/><path d="M1065.5 762L1351.5 535.3"/><path d="M1620.8 605.7L1633.6 704.5L1651 555.4L1702.5 836"/></g>
<text class="lab" x="81.3" y="105.4" fill="#e3141c" style="font-size:23px">X</text><text class="lab" x="174.0" y="205.2" fill="#e3141c">ii</text><text class="lab" x="134.7" y="372.2" fill="#e3141c">i</text><text class="lab" x="192.7" y="339.4" fill="#e3141c">iv</text><text class="lab" x="182.4" y="478.6" fill="#e3141c">iii</text><text class="lab" x="314.2" y="415.0" fill="#e3141c">a</text><text class="lab" x="275.6" y="574.7" fill="#e3141c">v</text><text class="lab" x="340.7" y="650.2" fill="#e3141c">b</text><text class="lab" x="370.8" y="295.4" fill="#e3141c">c</text><text class="lab" x="404.0" y="324.5" fill="#e3141c">ii</text><text class="lab" x="380.4" y="463.6" fill="#e3141c">i</text><text class="lab" x="495.1" y="639.2" fill="#e3141c">iv</text><text class="lab" x="478.6" y="790.8" fill="#e3141c">iii</text><text class="lab" x="538.4" y="816.8" fill="#e3141c">v</text><text class="lab" x="636.2" y="517.7" fill="#e3141c">a</text><text class="lab" x="988.3" y="623.6" fill="#e3141c">i</text><text class="lab" x="978.6" y="816.5" fill="#e3141c">b</text><text class="lab" x="1068.2" y="783.0" fill="#e3141c">ii</text><text class="lab" x="1133.3" y="471.6" fill="#e3141c">iii</text><text class="lab" x="1188.0" y="688.3" fill="#e3141c">iv</text><text class="lab" x="1351.7" y="405.4" fill="#e3141c">w</text><text class="lab" x="1350.4" y="424.3" fill="#e3141c">c</text><text class="lab" x="1352.1" y="445.8" fill="#e3141c">v</text><text class="lab" x="1390.2" y="508.0" fill="#e3141c">b</text><text class="lab" x="1368.8" y="668.7" fill="#e3141c">a</text><text class="lab" x="1454.7" y="701.7" fill="#e3141c">c</text><text class="lab" x="1456.6" y="723.6" fill="#e3141c">x</text><text class="lab" x="1470.9" y="421.8" fill="#e3141c">a</text><text class="lab" x="1553.1" y="675.4" fill="#e3141c">b</text><text class="lab" x="1601.0" y="385.0" fill="#e3141c">y</text><text class="lab" x="1602.6" y="413.3" fill="#e3141c">c</text><text class="lab" x="1651.0" y="547.9" fill="#e3141c">ii</text><text class="lab" x="1633.5" y="724.9" fill="#e3141c">i</text>
<text class="lab" x="371.0" y="269.0" fill="#1414c8" letter-spacing="1.2">(b)</text><text class="lab" x="276.2" y="601.9" fill="#1414c8" letter-spacing="1.2">(a)</text><text class="lab" x="540.4" y="839.8" fill="#1414c8" letter-spacing="1.2">(c)</text><text class="lab" x="538.6" y="869.0" fill="#1414c8" letter-spacing="1.2">(w)</text><text class="lab" x="1602.0" y="356.3" fill="#1414c8" letter-spacing="1.2">(x)</text>
<defs><filter id="sh" x="-5%" y="-30%" width="110%" height="170%"><feGaussianBlur stdDeviation="1.2"/></filter></defs><text x="1233" y="926.3" font-family='"Liberation Sans", Arial, sans-serif' font-size="23.5" fill="#777" filter="url(#sh)" textLength="541.5" lengthAdjust="spacingAndGlyphs">EWF Group 2 Asia Updated 2.21.2019 2.30 GMT</text><text x="1230.5" y="923.8" font-family='"Liberation Sans", Arial, sans-serif' font-size="23.5" fill="#000" textLength="541.5" lengthAdjust="spacingAndGlyphs">EWF Group 2 Asia Updated 2.21.2019 2.30 GMT</text>
</svg>
</body></html>
